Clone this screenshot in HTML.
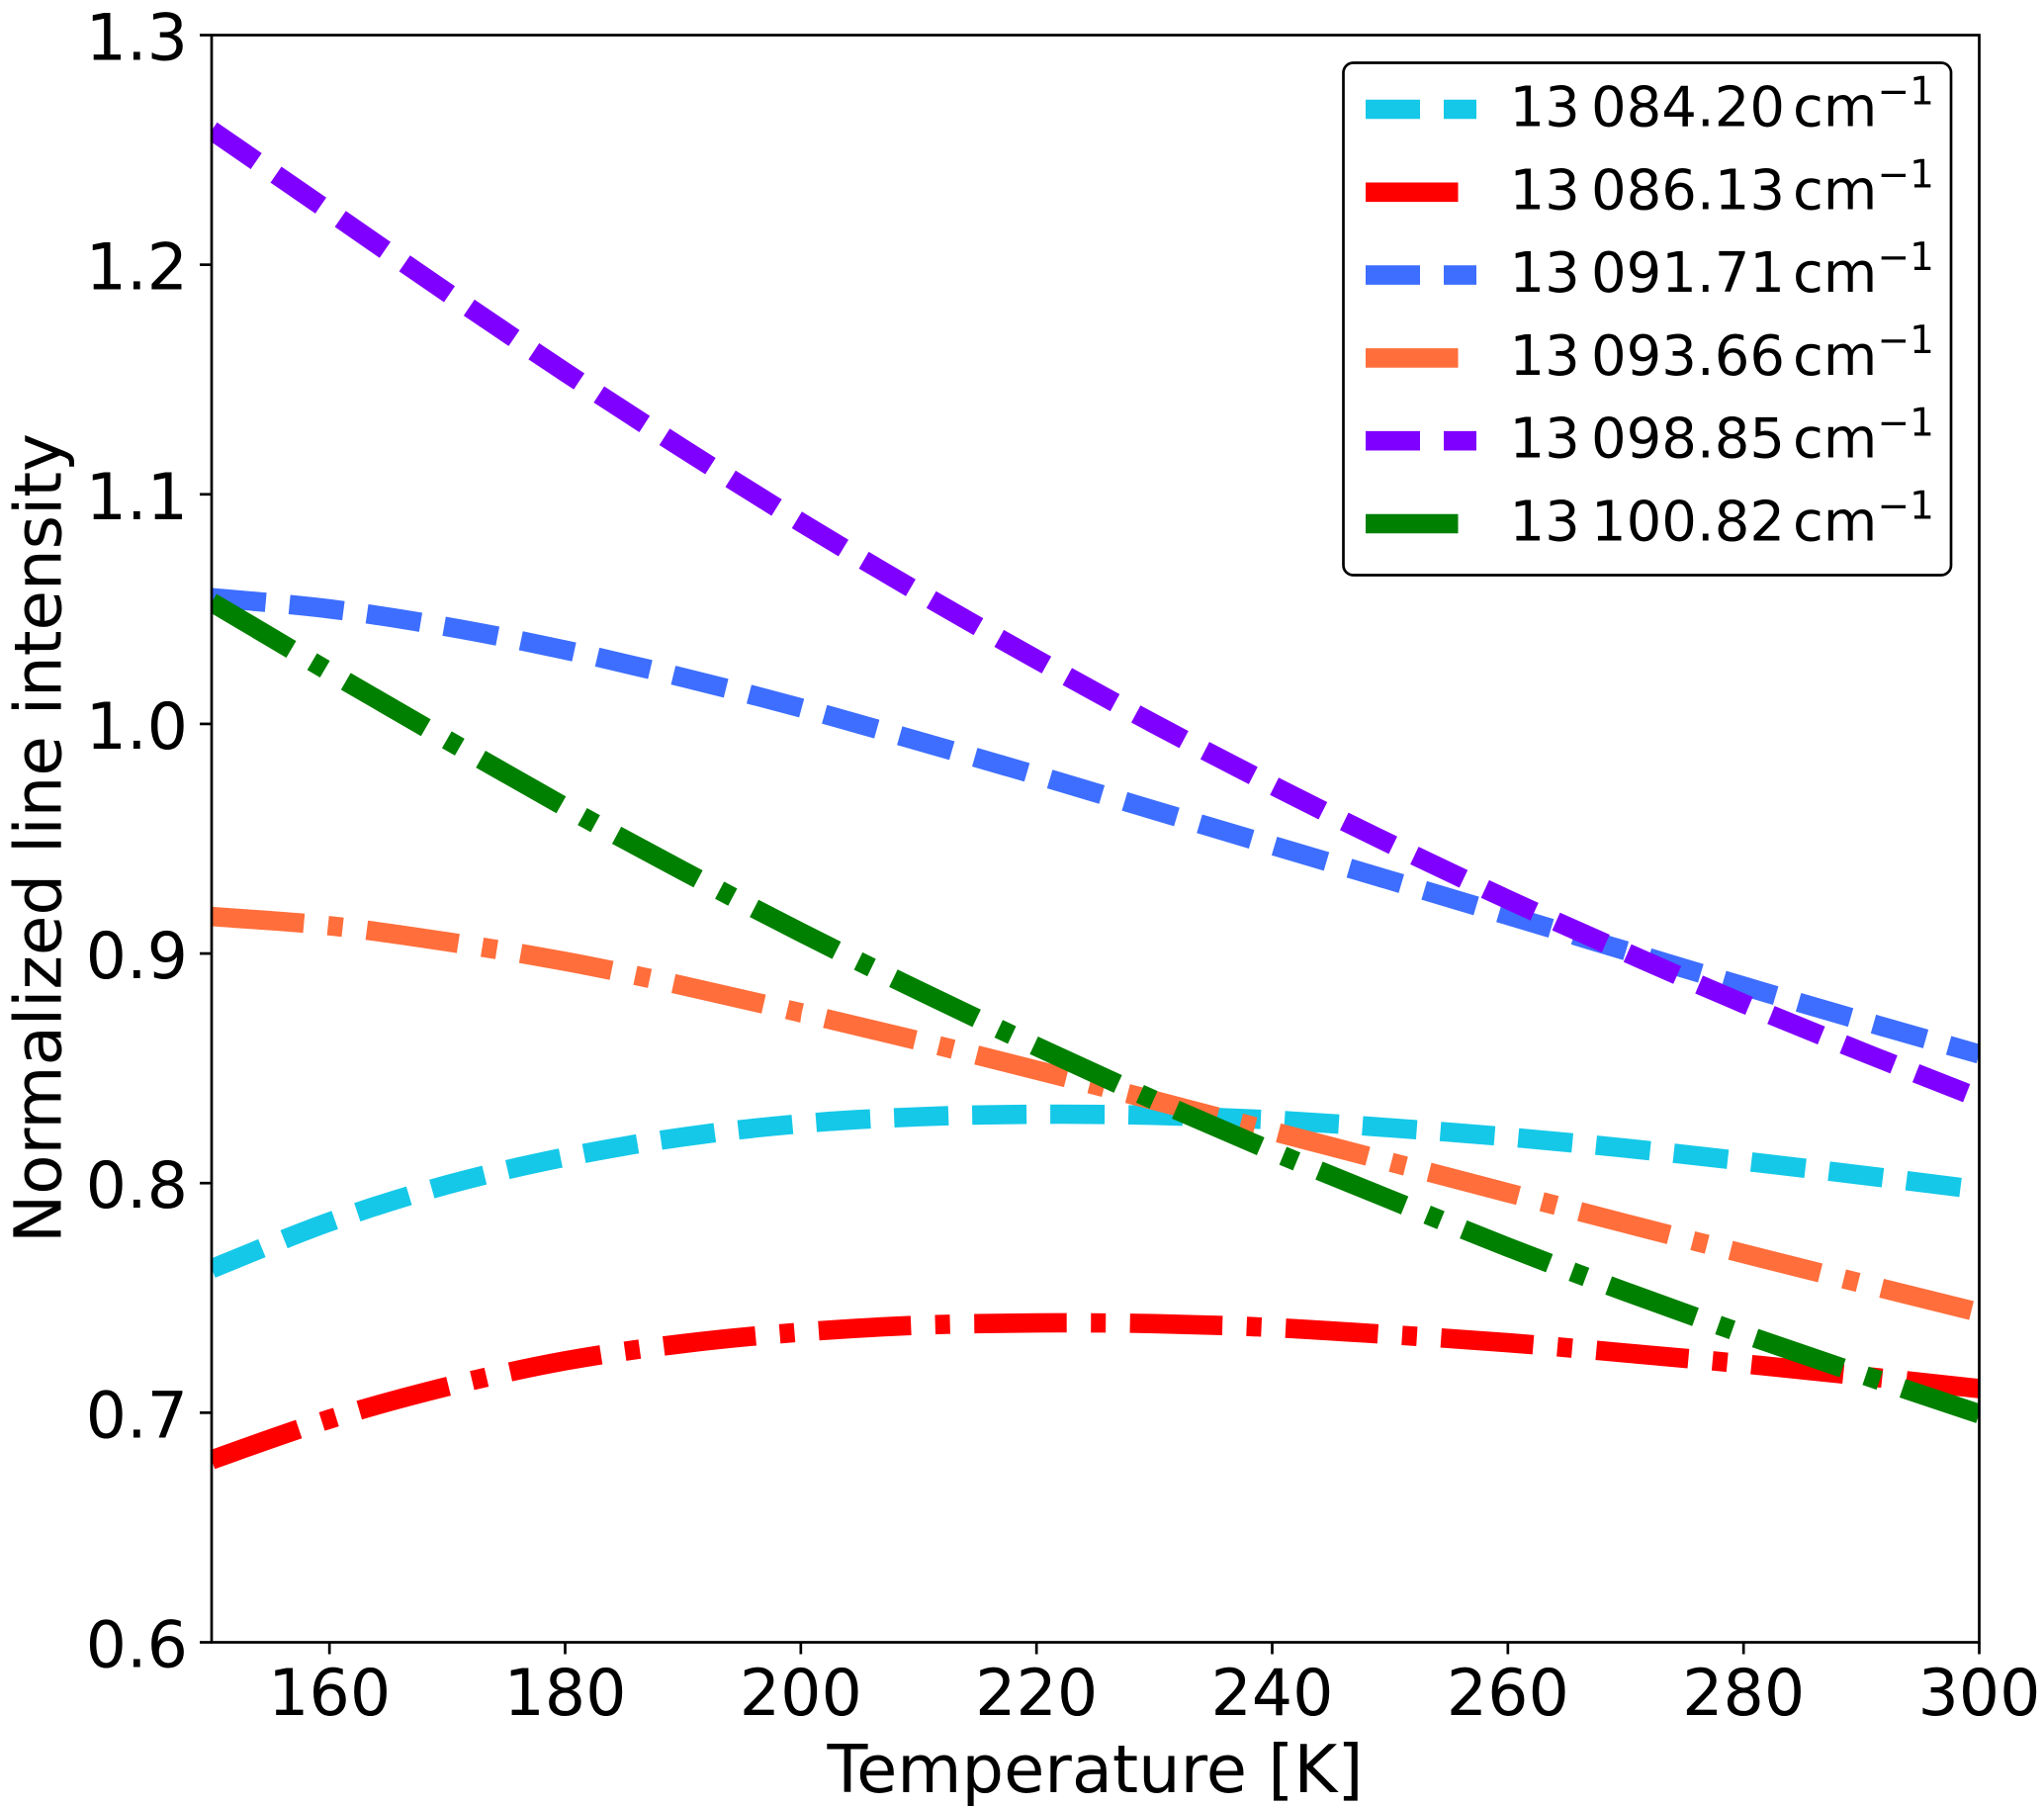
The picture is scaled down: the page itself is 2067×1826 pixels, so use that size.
<!DOCTYPE html>
<html lang="en">
<head>
<meta charset="utf-8">
<title>Normalized line intensity vs temperature</title>
<style>
html,body{margin:0;padding:0;background:#fff;width:2067px;height:1826px;overflow:hidden}
svg{display:block}
text{font-family:"DejaVu Sans","Liberation Sans",sans-serif;fill:#000}
</style>
</head>
<body>
<svg id="chart" xmlns="http://www.w3.org/2000/svg" width="2067" height="1826" viewBox="0 0 2067 1826">
  <defs>
    <clipPath id="plot-clip"><rect x="214" y="35.5" width="1787.5" height="1625"/></clipPath>
  </defs>
  <rect x="0" y="0" width="2067" height="1826" fill="#fff"/>
  <g id="series-layer" clip-path="url(#plot-clip)"></g>
  <g id="ticks-layer"></g>
  <rect x="214" y="35.5" width="1787.5" height="1625" fill="none" stroke="#000" stroke-width="2.7"/>
  <text x="1107.5" y="1812" font-size="67" text-anchor="middle">Temperature [K]</text>
  <text transform="translate(61.5 847.5) rotate(-90)" font-size="65.8" text-anchor="middle">Normalized line intensity</text>
  <g>
    <rect x="1358.5" y="63.5" width="614.5" height="518" rx="10" ry="10" fill="#fff" stroke="#000" stroke-width="2.7"/>
    <g id="legend-handles"></g>
    <g font-size="56"><text y="127.5"><tspan x="1526.5">13</tspan><tspan x="1609">084.20</tspan><tspan x="1813">cm</tspan><tspan x="1898.5" dy="-22" font-size="39">−1</tspan></text></g>
    <g font-size="56"><text y="211.3"><tspan x="1526.5">13</tspan><tspan x="1609">086.13</tspan><tspan x="1813">cm</tspan><tspan x="1898.5" dy="-22" font-size="39">−1</tspan></text></g>
    <g font-size="56"><text y="295.1"><tspan x="1526.5">13</tspan><tspan x="1609">091.71</tspan><tspan x="1813">cm</tspan><tspan x="1898.5" dy="-22" font-size="39">−1</tspan></text></g>
    <g font-size="56"><text y="378.9"><tspan x="1526.5">13</tspan><tspan x="1609">093.66</tspan><tspan x="1813">cm</tspan><tspan x="1898.5" dy="-22" font-size="39">−1</tspan></text></g>
    <g font-size="56"><text y="462.7"><tspan x="1526.5">13</tspan><tspan x="1609">098.85</tspan><tspan x="1813">cm</tspan><tspan x="1898.5" dy="-22" font-size="39">−1</tspan></text></g>
    <g font-size="56"><text y="546.5"><tspan x="1526.5">13</tspan><tspan x="1609">100.82</tspan><tspan x="1813">cm</tspan><tspan x="1898.5" dy="-22" font-size="39">−1</tspan></text></g>
  </g>
</svg>
<script>
const temperatures = [150,160,170,180,190,200,210,220,230,240,250,260,270,280,290,300];
const line13084 = [0.7627,0.7831,0.7993,0.8113,0.8201,0.8259,0.8289,0.8300,0.8295,0.8275,0.8241,0.8201,0.8152,0.8096,0.8035,0.7971];
const line13086 = [0.6795,0.6972,0.7114,0.7226,0.7301,0.7351,0.7381,0.7391,0.7388,0.7371,0.7340,0.7305,0.7260,0.7213,0.7160,0.7105];
const line13091 = [1.0550,1.0501,1.0423,1.0322,1.0202,1.0070,0.9925,0.9777,0.9624,0.9471,0.9319,0.9166,0.9012,0.8858,0.8708,0.8562];
const line13093 = [0.9161,0.9121,0.9051,0.8966,0.8860,0.8742,0.8620,0.8492,0.8360,0.8226,0.8092,0.7958,0.7824,0.7693,0.7564,0.7437];
const line13098 = [1.2585,1.2232,1.1878,1.1532,1.1199,1.0878,1.0573,1.0281,1.0000,0.9733,0.9478,0.9235,0.9005,0.8782,0.8573,0.8370];
const line13100 = [1.0530,1.0227,0.9930,0.9638,0.9360,0.9092,0.8839,0.8595,0.8361,0.8139,0.7929,0.7721,0.7527,0.7343,0.7167,0.6995];
const xTicks = [160,180,200,220,240,260,280,300];
const yTicks = [0.6,0.7,0.8,0.9,1.0,1.1,1.2,1.3];
const yTickLabels = ['0.6','0.7','0.8','0.9','1.0','1.1','1.2','1.3'];

const NS = 'http://www.w3.org/2000/svg';
const X0 = 214, X1 = 2001.5, Y0 = 1660.5, Y1 = 35.5;
function xScale(t){ return X0 + (t - 150) / (300 - 150) * (X1 - X0); }
function yScale(v){ return Y0 - (v - 0.6) / (1.3 - 0.6) * (Y0 - Y1); }

function make(tag, attrs){
  const el = document.createElementNS(NS, tag);
  for (const k in attrs) el.setAttribute(k, attrs[k]);
  return el;
}
function smoothPath(values){
  const p = values.map(function(v, i){ return [xScale(temperatures[i]), yScale(v)]; });
  let d = 'M' + p[0][0] + ' ' + p[0][1];
  for (let i = 0; i < p.length - 1; i++){
    const a = p[Math.max(i - 1, 0)], b = p[i], c = p[i + 1], e = p[Math.min(i + 2, p.length - 1)];
    d += ' C' + (b[0] + (c[0] - a[0]) / 6) + ' ' + (b[1] + (c[1] - a[1]) / 6) + ' ' +
         (c[0] - (e[0] - b[0]) / 6) + ' ' + (c[1] - (e[1] - b[1]) / 6) + ' ' + c[0] + ' ' + c[1];
  }
  return d;
}

const DASHED = '55 24';
const DASHDOT = '93.5 24.5 15 24.5';
const seriesLayer = document.getElementById('series-layer');
const legendHandles = document.getElementById('legend-handles');
const seriesList = [
  {id:'13084', values:line13084, color:'#15c8e8', dash:DASHED},
  {id:'13086', values:line13086, color:'#ff0000', dash:DASHDOT},
  {id:'13091', values:line13091, color:'#3d6eff', dash:DASHED},
  {id:'13093', values:line13093, color:'#ff6e3b', dash:DASHDOT},
  {id:'13098', values:line13098, color:'#8000ff', dash:DASHED},
  {id:'13100', values:line13100, color:'#008000', dash:DASHDOT}
];
seriesList.forEach(function(s, i){
  const path = make('path', {d:smoothPath(s.values), fill:'none', stroke:s.color, 'stroke-width':19.6, 'stroke-dasharray':s.dash});
  
  
  seriesLayer.appendChild(path);
  const cy = 110.5 + i * 83.8;
  const handle = make('line', {x1:1381, x2:1493, y1:cy, y2:cy, stroke:s.color, 'stroke-width':19.6, 'stroke-dasharray':s.dash});
  
  
  legendHandles.appendChild(handle);
});

const ticksLayer = document.getElementById('ticks-layer');
xTicks.forEach(function(t){
  const x = xScale(t);
  const tick = make('line', {x1:x, x2:x, y1:Y0, y2:Y0 + 12, stroke:'#000', 'stroke-width':2.7});
  
  
  ticksLayer.appendChild(tick);
  const label = make('text', {x:x, y:1734, 'font-size':65, 'text-anchor':'middle'});
  
  
  label.textContent = String(t);
  ticksLayer.appendChild(label);
});
yTicks.forEach(function(v, i){
  const y = yScale(v);
  const tick = make('line', {x1:X0 - 12, x2:X0, y1:y, y2:y, stroke:'#000', 'stroke-width':2.7});
  
  
  ticksLayer.appendChild(tick);
  const label = make('text', {x:190, y:y + 25, 'font-size':65, 'text-anchor':'end'});
  
  
  label.textContent = yTickLabels[i];
  ticksLayer.appendChild(label);
});
</script>
</body>
</html>
